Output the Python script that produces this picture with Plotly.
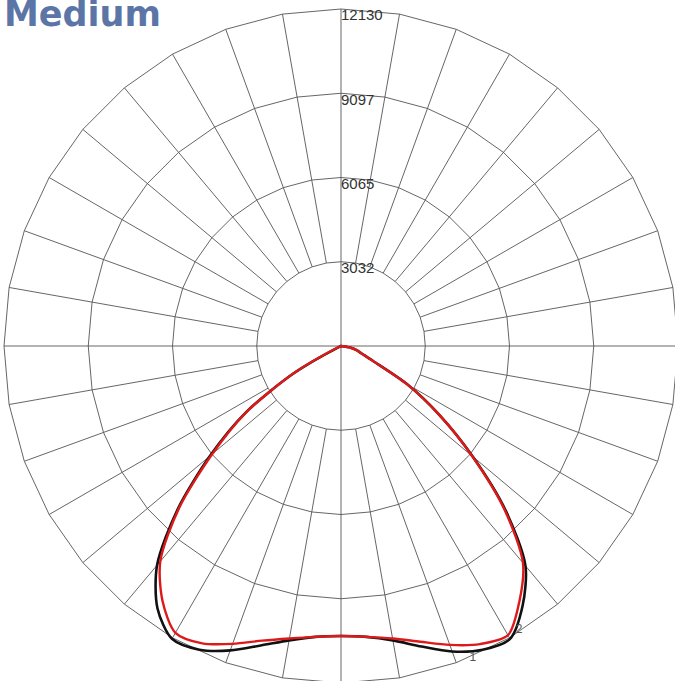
import plotly.graph_objects as go

# ---- data ----
RING_VALUES = [3032.5, 6065, 9097.5, 12130]
RING_LABELS = ["3032", "6065", "9097", "12130"]
SPOKE_ANGLES = list(range(0, 360, 10))

# angles from nadir (deg); left = C180 side, right = C0 side
ANGLES = [0, 5, 10, 15, 20, 25, 30, 35, 40, 45, 50, 55, 60, 65, 70, 75, 80, 85, 90]

curve1_left = [10440, 10510, 10760, 11160, 11660, 12060, 12170, 11520, 10300, 8320, 6160, 4210, 1980, 110, 0, 0, 0, 0, 0]
curve1_right = [10440, 10510, 10760, 11200, 11700, 12060, 12170, 11400, 10330, 8390, 6190, 4320, 2740, 1260, 790, 580, 360, 0, 0]
curve2_left = [10440, 10510, 10690, 10980, 11410, 11810, 11920, 11200, 10120, 8240, 6050, 4180, 1980, 110, 0, 0, 0, 0, 0]
curve2_right = [10440, 10510, 10690, 11020, 11450, 11840, 12020, 11200, 10190, 8320, 6160, 4320, 2740, 1260, 790, 580, 360, 0, 0]

CURVE_LABELS = ["1", "2"]
CURVE_LABEL_THETA = [23.3, 31.6]
CURVE_LABEL_R = [12000, 12000]
CURVE_LABEL_POS = ["bottom center", "middle right"]

TITLE = "Medium"

GRID_COLOR = "#555555"
R_OUTER = RING_VALUES[-1]


def full_curve(left, right):
    theta = [-a for a in reversed(ANGLES)] + ANGLES[1:]
    r = list(reversed(left)) + right[1:]
    return theta, r


fig = go.Figure()

# grid rings (polygons through spoke points)
g_theta, g_r = [], []
for rv in RING_VALUES:
    for a in SPOKE_ANGLES + [360]:
        g_theta.append(a)
        g_r.append(rv)
    g_theta.append(None)
    g_r.append(None)
# spokes
for a in SPOKE_ANGLES:
    start = 0 if a % 90 == 0 else RING_VALUES[0]
    g_theta += [a, a, None]
    g_r += [start, R_OUTER, None]

fig.add_trace(go.Scatterpolar(
    theta=g_theta, r=g_r, mode="lines",
    line=dict(color=GRID_COLOR, width=0.9),
    connectgaps=False, hoverinfo="skip",
))

# ring labels
fig.add_trace(go.Scatterpolar(
    theta=[180] * len(RING_VALUES), r=RING_VALUES, text=RING_LABELS,
    mode="text", textposition="bottom right",
    textfont=dict(family="Liberation Sans, Arial, sans-serif", size=15, color="#333333"),
    hoverinfo="skip", cliponaxis=False,
))

t1, r1 = full_curve(curve1_left, curve1_right)
t2, r2 = full_curve(curve2_left, curve2_right)

fig.add_trace(go.Scatterpolar(
    theta=t1, r=r1, mode="lines", name="1",
    line=dict(color="#111111", width=2.6, shape="spline", smoothing=0.8),
))
fig.add_trace(go.Scatterpolar(
    theta=t2, r=r2, mode="lines", name="2",
    line=dict(color="#dd1a1a", width=2.4, shape="spline", smoothing=0.8),
))

# curve numbers
fig.add_trace(go.Scatterpolar(
    theta=CURVE_LABEL_THETA, r=CURVE_LABEL_R, text=CURVE_LABELS,
    mode="text", textposition=CURVE_LABEL_POS,
    textfont=dict(family="Liberation Sans, Arial, sans-serif", size=12, color="#555555"),
    hoverinfo="skip", cliponaxis=False,
))

# figure slightly larger than the window so the outer ring can run off the edge
W, H = 685, 690
CX, CY = 341, 346          # polar centre in page pixels
R_PX_OUTER = 337           # pixel radius of the outer ring
half = min(CX, W - CX, CY, H - CY)
dom_x = [(CX - half) / W, (CX + half) / W]
dom_y = [(H - CY - half) / H, (H - CY + half) / H]
r_range_max = R_OUTER * half / R_PX_OUTER

fig.update_layout(
    width=W, height=H,
    margin=dict(l=0, r=0, t=0, b=0),
    paper_bgcolor="white",
    showlegend=False,
    polar=dict(
        domain=dict(x=dom_x, y=dom_y),
        bgcolor="white",
        radialaxis=dict(range=[0, r_range_max], visible=False),
        angularaxis=dict(rotation=-90, direction="counterclockwise", visible=False),
    ),
    annotations=[dict(
        text=TITLE, xref="paper", yref="paper", x=0, y=1,
        xanchor="left", yanchor="top", showarrow=False,
        xshift=2, yshift=8,
        font=dict(family="DejaVu Sans, sans-serif", size=35, color="#5b75a6", weight="bold"),
    )],
)

fig.write_html(
    "out.html",
    config={"displayModeBar": False},
    post_script="document.body.style.margin='0px';document.body.style.overflow='hidden';",
)
